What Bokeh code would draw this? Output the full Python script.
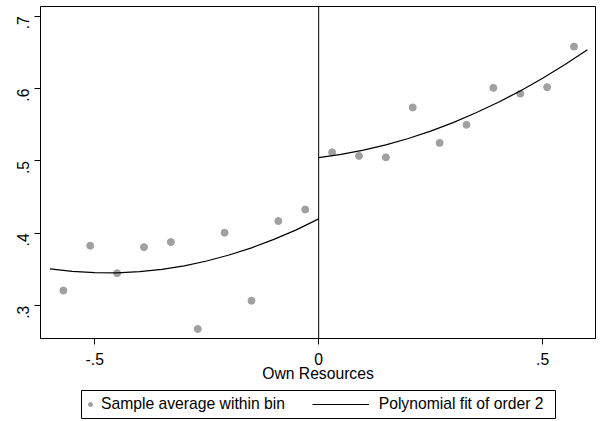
import math
from bokeh.plotting import figure
from bokeh.layouts import column, row
from bokeh.models import Range1d, Span, Legend, LegendItem, FixedTicker, Spacer
from bokeh.embed import file_html
from bokeh.resources import INLINE

# ---- data ----
left_bin_x = [-0.57, -0.51, -0.45, -0.39, -0.33, -0.27, -0.21, -0.15, -0.09, -0.03]
left_bin_y = [0.321, 0.383, 0.345, 0.381, 0.388, 0.268, 0.401, 0.307, 0.417, 0.433]
right_bin_x = [0.03, 0.09, 0.15, 0.21, 0.27, 0.33, 0.39, 0.45, 0.51, 0.57]
right_bin_y = [0.512, 0.507, 0.505, 0.574, 0.525, 0.550, 0.601, 0.593, 0.602, 0.658]

left_fit_x = [-0.60, -0.55, -0.50, -0.45, -0.40, -0.35, -0.30, -0.25, -0.20, -0.15, -0.10, -0.05, 0.0]
left_fit_y = [0.3511, 0.3475, 0.3458, 0.3455, 0.3471, 0.3503, 0.3552, 0.3618, 0.3701, 0.3800, 0.3917, 0.4049, 0.4200]
right_fit_x = [0.0, 0.05, 0.10, 0.15, 0.20, 0.25, 0.30, 0.35, 0.40, 0.45, 0.50, 0.55, 0.60]
right_fit_y = [0.5047, 0.5091, 0.5150, 0.5223, 0.5311, 0.5413, 0.5530, 0.5662, 0.5807, 0.5968, 0.6143, 0.6333, 0.6537]

x_ticks = [-0.5, 0.0, 0.5]
x_tick_labels = ["-.5", "0", ".5"]
y_ticks = [0.3, 0.4, 0.5, 0.6, 0.7]
y_tick_labels = [".3", ".4", ".5", ".6", ".7"]

x_title = "Own Resources"
legend_dot_label = "Sample average within bin"
legend_line_label = "Polynomial fit of order 2"

FONT = "Liberation Sans"
FS = "15.7px"
DOT = "#a0a0a0"

p = figure(width=601, height=388, output_backend="svg", toolbar_location=None,
           x_range=Range1d(-0.621, 0.618), y_range=Range1d(0.2548, 0.7134),
           min_border_left=40, min_border_right=6, min_border_top=6, min_border_bottom=50)
p.background_fill_color = "white"
p.border_fill_color = "white"
p.outline_line_color = "black"
p.outline_line_width = 1
p.grid.visible = False

# axes
p.xaxis.ticker = FixedTicker(ticks=x_ticks)
p.xaxis.major_label_overrides = {t: l for t, l in zip(x_ticks, x_tick_labels)}
p.yaxis.ticker = FixedTicker(ticks=y_ticks)
p.yaxis.major_label_overrides = {t: l for t, l in zip(y_ticks, y_tick_labels)}
p.yaxis.major_label_orientation = math.pi / 2
for ax in (p.xaxis, p.yaxis):
    ax.minor_tick_line_color = None
    ax.major_tick_in = 0
    ax.major_tick_out = 6
    ax.major_tick_line_color = "black"
    ax.axis_line_color = "black"
    ax.major_label_text_font = FONT
    ax.major_label_text_font_size = FS
    ax.major_label_text_color = "black"
p.xaxis.major_label_standoff = 8
p.yaxis.major_label_standoff = 11
p.xaxis.axis_label = x_title
p.xaxis.axis_label_text_font = FONT
p.xaxis.axis_label_text_font_size = FS
p.xaxis.axis_label_text_font_style = "normal"
p.xaxis.axis_label_text_color = "black"
p.xaxis.axis_label_standoff = -3

# marks
dots_l = p.scatter(left_bin_x, left_bin_y, size=7, color=DOT)
dots_r = p.scatter(right_bin_x, right_bin_y, size=7, color=DOT)
fit_l = p.line(left_fit_x, left_fit_y, line_color="black", line_width=1.2)
fit_r = p.line(right_fit_x, right_fit_y, line_color="black", line_width=1.2)

p.add_layout(Span(location=0, dimension="height", line_color="black", line_width=1))

# legend panel (its frame outline is the legend box)
lf = figure(width=475, height=33, output_backend="svg", toolbar_location=None,
            x_axis_location=None, y_axis_location=None,
            x_range=Range1d(10, 11), y_range=Range1d(10, 11),
            min_border_left=0, min_border_right=0, min_border_top=2, min_border_bottom=3)
lf.grid.visible = False
lf.outline_line_color = "black"
lf.outline_line_width = 1
lf.background_fill_color = "white"
lf.border_fill_color = "white"
leg_dot = lf.scatter(left_bin_x, left_bin_y, size=7, color=DOT)
leg_line = lf.line(left_fit_x, left_fit_y, line_color="black", line_width=1.2)

def make_legend(item, loc, gw, standoff):
    return Legend(items=[item], location=loc, orientation="horizontal",
                  border_line_color=None, background_fill_alpha=0,
                  padding=0, spacing=0, margin=0,
                  glyph_width=gw, glyph_height=20, label_height=20,
                  label_standoff=standoff,
                  label_text_font=FONT, label_text_font_size=FS,
                  label_text_color="black")

lf.add_layout(make_legend(LegendItem(label=legend_dot_label, renderers=[leg_dot]), (4, 4), 10, 6), "center")
lf.add_layout(make_legend(LegendItem(label=legend_line_label, renderers=[leg_line]), (230.7, 4), 57, 10), "center")

layout = column(p, row(Spacer(width=81, height=33), lf, spacing=0), spacing=0)
open("out.html", "w").write(file_html(layout, INLINE))
